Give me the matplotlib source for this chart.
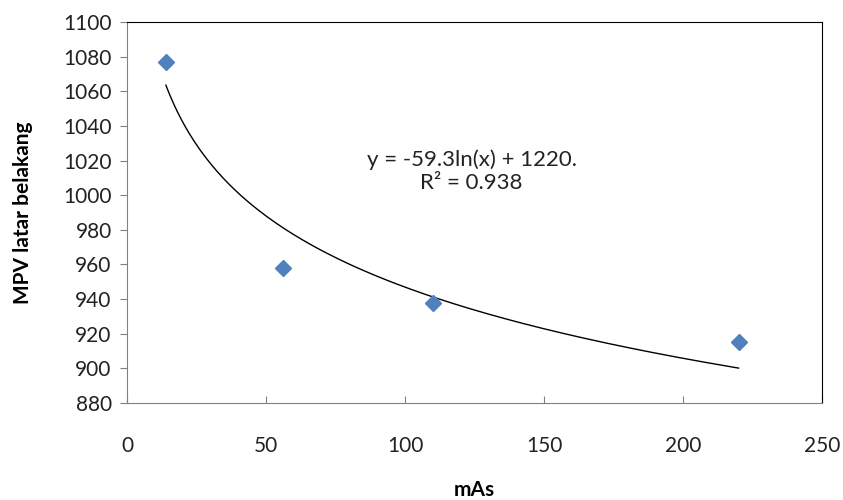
import numpy as np
import matplotlib.pyplot as plt

plt.rcParams['font.family'] = ['Lato', 'DejaVu Sans']

# measured background MPV against tube current-time product
mas = [14, 56, 110, 220]
mpv = [1077, 958, 938, 915]

# logarithmic trendline coefficients
coef_a = -59.3
coef_b = 1220.0
r2 = 0.938

fig = plt.figure(figsize=(8.43, 5.0), dpi=100)
ax = fig.add_axes([127 / 843, 97 / 500, 695 / 843, 381 / 500])

xs = np.linspace(min(mas), max(mas), 200)
ax.plot(xs, coef_a * np.log(xs) + coef_b, color='black', lw=1.0, zorder=2)
ax.plot(mas, mpv, linestyle='none', marker='D', markersize=8.5,
        color='#4F81BD', markeredgecolor='#4F81BD', zorder=3)

ax.set_xlim(0, 250)
ax.set_ylim(880, 1100)
ax.set_xticks(np.arange(0, 251, 50))
ax.set_yticks(np.arange(880, 1101, 20))

ax.tick_params(axis='x', direction='in', length=5, pad=24, labelsize=15,
               color='#808080', labelcolor='#222222')
ax.tick_params(axis='y', direction='out', length=5, pad=6, labelsize=15,
               color='#808080', labelcolor='#222222')

for side in ['left', 'bottom']:
    ax.spines[side].set_color('#808080')
for side in ['top', 'right']:
    ax.spines[side].set_color('black')

ax.set_xlabel('mAs', fontsize=15, fontweight='bold', labelpad=17)
ax.set_ylabel('MPV latar belakang', fontsize=15, fontweight='bold', labelpad=22)

ax.text(124, 1020.5, 'y = -59.3ln(x) + 1220.', fontsize=16, ha='center',
        va='center', color='#222222')
ax.text(124, 1007, f'R² = {r2}', fontsize=16, ha='center', va='center',
        color='#222222')

fig.savefig('out.png', dpi=100)
